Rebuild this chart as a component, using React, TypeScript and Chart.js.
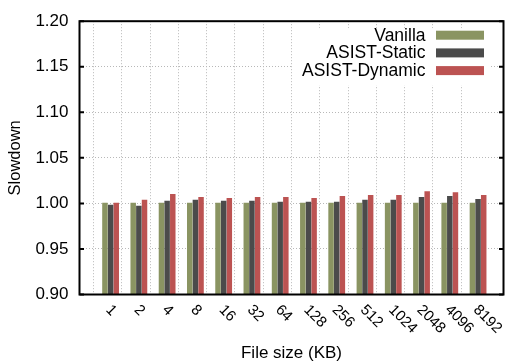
import React, { useEffect, useRef } from 'react';
import { Chart, registerables } from 'chart.js';

Chart.register(...registerables);

// ---- data ----
const categories = ['1', '2', '4', '8', '16', '32', '64', '128', '256', '512', '1024', '2048', '4096', '8192'];
const vanilla = [1.0007, 1.0007, 1.0007, 1.0007, 1.0007, 1.0007, 1.0007, 1.0007, 1.0007, 1.0007, 1.0007, 1.0007, 1.0007, 1.0007];
const asistStatic = [0.9986, 0.9975, 1.0028, 1.0039, 1.0028, 1.0028, 1.0018, 1.0018, 1.0018, 1.0039, 1.0039, 1.007, 1.0081, 1.0049];
const asistDynamic = [1.0007, 1.0039, 1.0102, 1.007, 1.006, 1.007, 1.007, 1.006, 1.0081, 1.0092, 1.0092, 1.0134, 1.0123, 1.0092];
const seriesNames = ['Vanilla', 'ASIST-Static', 'ASIST-Dynamic'];
const yTicks = [0.9, 0.95, 1.0, 1.05, 1.1, 1.15, 1.2];

// ---- style ----
const seriesColors = ['#8a9462', '#4b4b4b', '#bc5352'];
const FONT = '"Liberation Sans", Arial, Helvetica, sans-serif';
const GRID = '#b8b8b8';
const Y_MIN = yTicks[0];
const Y_MAX = yTicks[yTicks.length - 1];
const X_MIN = -1;
const X_MAX = categories.length;
const BAR_SHIFT = 0.1;

const overlay = {
  id: 'overlay',
  afterDatasetsDraw(chart: any) {
    const { ctx, chartArea: a } = chart;
    const y = chart.scales.y;
    const gx = chart.scales.x2;
    ctx.save();
    // frame
    ctx.strokeStyle = '#000';
    ctx.lineWidth = 2;
    ctx.strokeRect(a.left, a.top, a.right - a.left, a.bottom - a.top);
    // inward y tick marks
    yTicks.forEach((v) => {
      const py = y.getPixelForValue(v);
      ctx.beginPath();
      ctx.moveTo(a.left, py);
      ctx.lineTo(a.left + 4.5, py);
      ctx.moveTo(a.right, py);
      ctx.lineTo(a.right - 4.5, py);
      ctx.stroke();
    });
    // rotated x tick labels
    ctx.fillStyle = '#000';
    ctx.font = `15px ${FONT}`;
    ctx.textAlign = 'left';
    ctx.textBaseline = 'middle';
    categories.forEach((c, i) => {
      const px = gx.getPixelForValue(i);
      ctx.save();
      ctx.translate(px + 0.5, a.bottom + 13);
      ctx.rotate(Math.PI / 4);
      ctx.fillText(c, 0, 0);
      ctx.restore();
    });
    // legend
    const boxRight = a.right - 19.5;
    const boxW = 48;
    const boxH = 9;
    const rowTop = a.top + 14;
    const rowGap = 17.7;
    ctx.fillStyle = '#fff';
    ctx.fillRect(293, a.top + 7, boxRight + 5 - 293, rowGap * 3 + 4);
    ctx.font = `17.5px ${FONT}`;
    chart.data.datasets.forEach((ds: any, i: number) => {
      const cy = rowTop + i * rowGap;
      ctx.fillStyle = ds.backgroundColor;
      ctx.fillRect(boxRight - boxW, cy - boxH / 2, boxW, boxH);
      ctx.fillStyle = '#000';
      ctx.textAlign = 'right';
      ctx.textBaseline = 'middle';
      ctx.fillText(ds.label, boxRight - boxW - 10.5, cy + 0.5);
    });
    ctx.restore();
  },
};

export default function App() {
  const ref = useRef<HTMLCanvasElement>(null);

  useEffect(() => {
    if (!ref.current) return;
    const series = [vanilla, asistStatic, asistDynamic];
    const chart = new Chart(ref.current, {
      type: 'bar',
      data: {
        datasets: series.map((vals, s) => ({
          label: seriesNames[s],
          data: vals.map((v, i) => ({ x: i, y: v })),
          backgroundColor: seriesColors[s],
          borderWidth: 0,
          base: Y_MIN,
          categoryPercentage: 0.6,
          barPercentage: 0.97,
        })),
      },
      options: {
        responsive: false,
        animation: false,
        events: [],
        layout: { padding: { left: 0, right: 1.5, top: 11.8, bottom: 0 } },
        plugins: { legend: { display: false }, tooltip: { enabled: false } },
        scales: {
          x: {
            type: 'linear',
            display: false,
            offset: false,
            min: X_MIN - BAR_SHIFT,
            max: X_MAX - BAR_SHIFT,
          },
          x2: {
            type: 'linear',
            position: 'bottom',
            offset: false,
            min: X_MIN,
            max: X_MAX,
            ticks: { display: false, stepSize: 1, maxTicksLimit: 100 },
            grid: {
              drawTicks: false,
              lineWidth: 1,
              color: (c: any) =>
                c.tick && c.tick.value >= 0 && c.tick.value <= categories.length - 1 ? GRID : 'rgba(0,0,0,0)',
            },
            border: { display: false, dash: [1, 2] },
            title: {
              display: true,
              text: 'File size (KB)',
              color: '#000',
              font: { family: FONT, size: 17, lineHeight: 1.2 },
              padding: { top: 0, bottom: 0 },
            },
            afterFit: (s: any) => {
              s.height = 69.5;
            },
          },
          y: {
            type: 'linear',
            position: 'left',
            min: Y_MIN,
            max: Y_MAX,
            ticks: {
              stepSize: 0.05,
              padding: 11,
              color: '#000',
              font: { family: FONT, size: 17 },
              callback: (v: any) => Number(v).toFixed(2),
            },
            grid: {
              drawTicks: false,
              lineWidth: 1,
              color: (c: any) =>
                c.tick && c.tick.value > Y_MIN + 1e-6 && c.tick.value < Y_MAX - 1e-6 ? GRID : 'rgba(0,0,0,0)',
            },
            border: { display: false, dash: [1, 2] },
            title: {
              display: true,
              text: 'Slowdown',
              color: '#000',
              font: { family: FONT, size: 16.5, lineHeight: 1.2 },
              padding: { top: 5.7, bottom: 0 },
            },
            afterFit: (s: any) => {
              s.width = 79.5;
            },
          },
        },
      },
      plugins: [overlay],
    });
    return () => chart.destroy();
  }, []);

  return (
    <div style={{ position: 'absolute', left: 0, top: 0, width: 505, height: 364, background: '#fff' }}>
      <canvas ref={ref} width={505} height={364} style={{ display: 'block' }} />
    </div>
  );
}
